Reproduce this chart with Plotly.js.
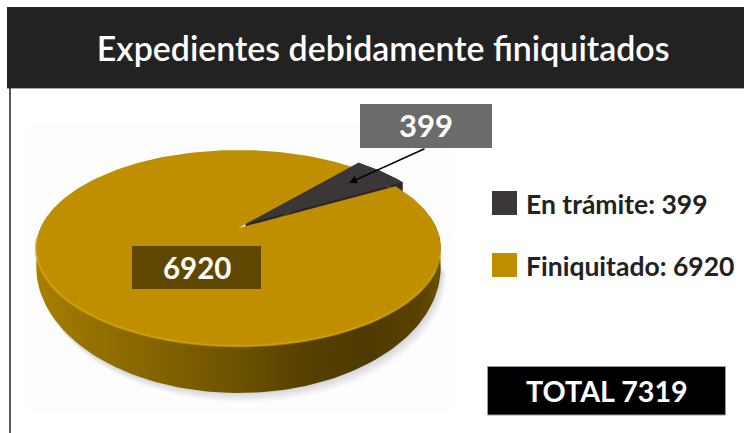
<!DOCTYPE html>
<html><head><meta charset="utf-8">
<script src="https://cdn.plot.ly/plotly-3.0.1.min.js"></script>
<style>html,body{margin:0;padding:0;background:#fff}#c{width:744px;height:433px}</style>
</head><body><div id="c"></div>
<script>
const categories = ['En trámite', 'Finiquitado'];
const values = [399, 6920];
const sliceColors = ['#3b3638', '#bf8f00'];
const totalLabel = 'TOTAL';
const chartTitle = 'Expedientes debidamente finiquitados';

const total = values[0] + values[1];
const FONT = 'Lato, "Open Sans", sans-serif';

// perspective view of a disc
const cx = 238.5, cy = 228, A = 198, B = 93.9, k = 0.204;
const startDeg = 48.8;
const rad = d => d * Math.PI / 180;
function proj(deg, dx = 0, dy = 0, sy = 1) {
  const u = Math.cos(rad(deg)), v = Math.sin(rad(deg)), w = 1 + k * v;
  return [cx + dx + A * u / w, cy + dy - sy * B * v / w];
}
function arc(from, to, dx, dy, sy) {
  const n = Math.max(2, Math.ceil(Math.abs(to - from) / 1.5)), p = [];
  for (let i = 0; i <= n; i++) p.push(proj(from + (to - from) * i / n, dx, dy, sy));
  return p;
}
function poly(points, color, extra) {
  return Object.assign({
    type: 'scatter', mode: 'lines', x: points.map(p => p[0]), y: points.map(p => p[1]),
    fill: 'toself', fillcolor: color, line: {width: 0}, hoverinfo: 'skip', showlegend: false
  }, extra || {});
}
const sweep0 = 360 * values[0] / total;
const sweep1 = 360 * values[1] / total;
const wedgeEnd = startDeg - sweep0;

const traces = [];
// soft shadow below the disc
[[9, 0.05], [7, 0.06], [5, 0.07], [3, 0.08], [1, 0.09]].forEach(([d, o]) => {
  traces.push(poly(arc(190, 350, d * 0.6, 13.3 + d, 1.286), `rgba(120,125,135,${o})`));
});
// disc side
const rimPts = arc(172, 368, 0, 13.3, 1.286).concat(arc(368, 172, 0, 0, 1));
traces.push(poly(rimPts, '#7a5d00', {
  fillgradient: {type: 'horizontal', colorscale: [
    [0, '#a88000'], [0.12, '#967200'], [0.3, '#846400'], [0.5, '#6c5100'],
    [0.68, '#553f00'], [0.82, '#4e3900'], [0.95, '#5a4300'], [1, '#6a5000']]}
}));
// exploded slice: side wall
const wx = 7, wy = -4;
const wedgeTop = [[cx + wx, cy + wy]].concat(arc(startDeg, wedgeEnd, wx, wy));
const wedgeWall = [[cx + wx, cy + wy + 12]].concat(arc(startDeg, wedgeEnd, wx, wy + 12));
traces.push(poly(wedgeTop.concat(wedgeWall.slice().reverse()), '#2a2627'));
traces.push(poly(wedgeWall, '#2a2627'));
// main slice top
traces.push(poly([[cx, cy]].concat(arc(wedgeEnd, wedgeEnd - sweep1)), sliceColors[1], {name: categories[1]}));
// rim highlight
[[arc(186, 345), 'rgba(200,152,4,0.55)', 3], [arc(190, 335), 'rgba(216,165,8,0.7)', 1.5]].forEach(([pts, color, width]) => {
  traces.push({type: 'scatter', mode: 'lines', x: pts.map(p => p[0]), y: pts.map(p => p[1]),
    line: {color, width}, hoverinfo: 'skip', showlegend: false});
});
// small slice top
traces.push(poly(wedgeTop, sliceColors[0], {name: categories[0]}));

const rect = (x0, y0, x1, y1, fill, line) => ({type: 'rect', xref: 'x', yref: 'y', x0, y0, x1, y1,
  fillcolor: fill, line: line ? {color: line, width: 1} : {width: 0}, layer: 'above'});

const shapes = [
  Object.assign(rect(28, 125, 452, 412, '#fdfdfd'), {layer: 'below'}),
  rect(7, 7, 744, 88, '#222222'),
  {type: 'line', xref: 'x', yref: 'y', x0: 7, x1: 744, y0: 88.5, y1: 88.5, line: {color: '#a8a8a8', width: 1}, layer: 'above'},
  {type: 'line', xref: 'x', yref: 'y', x0: 10, x1: 10, y0: 88, y1: 433, line: {color: '#222222', width: 1.5}, layer: 'above'},
  rect(360, 104, 492, 148, '#6b6b6b'),
  rect(132, 246, 261, 289, '#5f4700'),
  rect(492, 191, 517, 215, sliceColors[0]),
  rect(492, 253, 517, 277, sliceColors[1]),
  rect(487.5, 366.5, 725.5, 415, '#000000', '#999999')
];
const note = (x, y, text, size, color, anchor) => ({xref: 'x', yref: 'y', x, y, text, showarrow: false,
  xanchor: anchor || 'center', yanchor: 'middle',
  font: {family: FONT, size, color, weight: 700}});
const annotations = [
  note(426, 125, String(values[0]), 31, '#ffffff'),
  note(197, 267, String(values[1]), 29.5, '#ffffff'),
  note(524, 204, categories[0] + ': ' + values[0], 26.5, '#222222', 'left'),
  note(524, 266, categories[1] + ': ' + values[1], 26.5, '#222222', 'left'),
  note(607, 391, totalLabel + ' ' + total, 28.7, '#ffffff'),
  {xref: 'x', yref: 'y', axref: 'x', ayref: 'y', x: 349, y: 183, ax: 426, ay: 148, text: '',
   showarrow: true, arrowhead: 2, arrowsize: 1, arrowwidth: 1.6, arrowcolor: '#000000'}
];
const layout = {
  width: 744, height: 433, margin: {l: 0, r: 0, t: 0, b: 0},
  paper_bgcolor: '#ffffff', plot_bgcolor: 'rgba(0,0,0,0)', showlegend: false,
  title: {text: chartTitle, x: 0.515, xanchor: 'center', y: 1 - 49 / 433, yanchor: 'middle',
    font: {family: FONT, size: 33.9, color: '#ffffff', weight: 600}},
  xaxis: {range: [0, 744], visible: false, fixedrange: true},
  yaxis: {range: [433, 0], visible: false, fixedrange: true},
  shapes, annotations
};
Plotly.newPlot('c', traces, layout, {displayModeBar: false, staticPlot: true});
</script></body></html>
